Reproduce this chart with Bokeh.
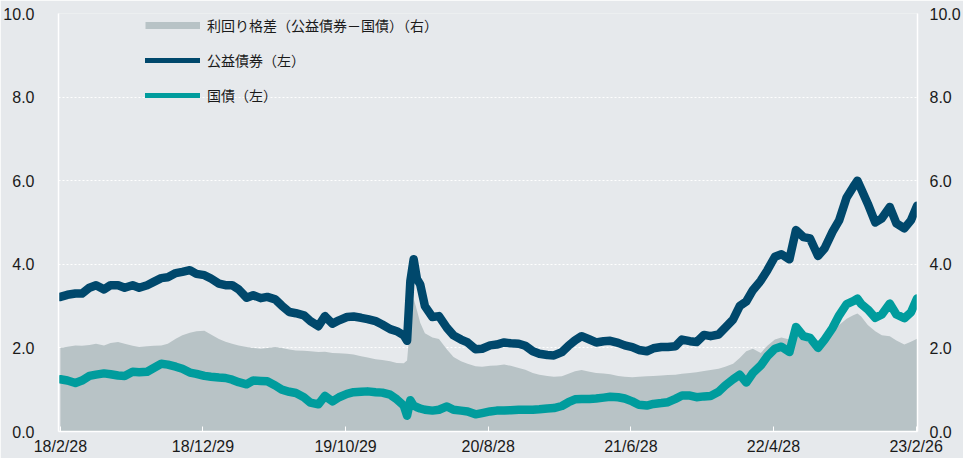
import pandas as pd
from bokeh.plotting import figure
from bokeh.models import (Range1d, LinearAxis, FixedTicker, Legend, LegendItem,
                          PrintfTickFormatter, ColumnDataSource)
from bokeh.embed import file_html
from bokeh.resources import INLINE

# ---------------- data ----------------
dates = [
    "2018-02-28", "2018-03-15", "2018-04-01", "2018-04-15", "2018-05-01", "2018-05-15",
    "2018-06-01", "2018-06-15", "2018-07-01", "2018-07-15", "2018-08-01", "2018-08-15",
    "2018-09-01", "2018-09-15", "2018-10-01", "2018-10-15", "2018-11-01", "2018-11-15",
    "2018-12-01", "2018-12-15", "2019-01-01", "2019-01-15", "2019-02-01", "2019-02-15",
    "2019-03-01", "2019-03-15", "2019-04-01", "2019-04-15", "2019-05-01", "2019-05-15",
    "2019-06-01", "2019-06-15", "2019-07-01", "2019-07-15", "2019-08-01", "2019-08-15",
    "2019-09-01", "2019-09-15", "2019-10-01", "2019-10-15", "2019-11-01", "2019-11-15",
    "2019-12-01", "2019-12-15", "2020-01-01", "2020-01-15", "2020-02-01", "2020-02-15",
    "2020-03-01", "2020-03-08", "2020-03-15", "2020-03-22", "2020-03-29", "2020-04-05",
    "2020-04-15", "2020-05-01", "2020-05-15", "2020-06-01", "2020-06-15", "2020-07-01",
    "2020-07-15", "2020-08-01", "2020-08-15", "2020-09-01", "2020-09-15", "2020-10-01",
    "2020-10-15", "2020-11-01", "2020-11-15", "2020-12-01", "2020-12-15", "2021-01-01",
    "2021-01-15", "2021-02-01", "2021-02-15", "2021-03-01", "2021-03-15", "2021-04-01",
    "2021-04-15", "2021-05-01", "2021-05-15", "2021-06-01", "2021-06-15", "2021-07-01",
    "2021-07-15", "2021-08-01", "2021-08-15", "2021-09-01", "2021-09-15", "2021-10-01",
    "2021-10-15", "2021-11-01", "2021-11-15", "2021-12-01", "2021-12-15", "2022-01-01",
    "2022-01-15", "2022-02-01", "2022-02-15", "2022-03-01", "2022-03-15", "2022-04-01",
    "2022-04-15", "2022-05-01", "2022-05-15", "2022-06-01", "2022-06-15", "2022-07-01",
    "2022-07-15", "2022-08-01", "2022-08-15", "2022-09-01", "2022-09-15", "2022-10-01",
    "2022-10-15", "2022-10-24", "2022-11-01", "2022-11-15", "2022-12-01", "2022-12-15",
    "2023-01-01", "2023-01-15", "2023-02-01", "2023-02-15", "2023-02-28",
]

# 公益債券（左）
corp = [
    3.22, 3.27, 3.30, 3.30, 3.44, 3.50, 3.40, 3.50, 3.50, 3.44, 3.50, 3.44,
    3.50, 3.58, 3.67, 3.69, 3.79, 3.82, 3.86, 3.77, 3.74, 3.66, 3.54, 3.50,
    3.50, 3.40, 3.20, 3.26, 3.19, 3.22, 3.16, 3.01, 2.86, 2.83, 2.78, 2.64,
    2.52, 2.76, 2.58, 2.66, 2.74, 2.75, 2.72, 2.69, 2.64, 2.56, 2.45, 2.40,
    2.30, 2.17, 3.60, 4.12, 3.65, 3.52, 3.00, 2.74, 2.76, 2.48, 2.30, 2.20,
    2.13, 1.97, 1.98, 2.06, 2.08, 2.13, 2.11, 2.10, 2.05, 1.92, 1.86, 1.83,
    1.82, 1.90, 2.05, 2.18, 2.28, 2.20, 2.13, 2.16, 2.17, 2.12, 2.06, 2.02,
    1.95, 1.92, 1.99, 2.02, 2.02, 2.04, 2.20, 2.16, 2.14, 2.31, 2.28, 2.32,
    2.48, 2.68, 3.00, 3.11, 3.38, 3.61, 3.86, 4.18, 4.24, 4.12, 4.82, 4.65,
    4.62, 4.20, 4.38, 4.78, 5.05, 5.60, 5.85, 6.00, 5.80, 5.45, 5.00, 5.10,
    5.37, 4.98, 4.86, 5.05, 5.40,
]

# 国債（左）
govt = [
    1.25, 1.22, 1.16, 1.22, 1.33, 1.36, 1.39, 1.37, 1.34, 1.33, 1.43, 1.42,
    1.43, 1.52, 1.62, 1.60, 1.55, 1.50, 1.41, 1.38, 1.33, 1.31, 1.29, 1.28,
    1.24, 1.18, 1.13, 1.22, 1.21, 1.20, 1.10, 1.00, 0.95, 0.92, 0.82, 0.69,
    0.65, 0.85, 0.72, 0.82, 0.90, 0.94, 0.95, 0.96, 0.94, 0.93, 0.88, 0.77,
    0.62, 0.38, 0.75, 0.62, 0.58, 0.55, 0.52, 0.50, 0.52, 0.60, 0.52, 0.50,
    0.48, 0.41, 0.44, 0.48, 0.50, 0.50, 0.51, 0.52, 0.52, 0.52, 0.53, 0.55,
    0.56, 0.61, 0.70, 0.77, 0.78, 0.78, 0.79, 0.81, 0.83, 0.82, 0.79, 0.72,
    0.64, 0.62, 0.66, 0.68, 0.70, 0.78, 0.86, 0.86, 0.82, 0.84, 0.85, 0.95,
    1.10, 1.25, 1.36, 1.17, 1.40, 1.58, 1.80, 1.98, 2.03, 1.90, 2.50, 2.28,
    2.24, 2.00, 2.20, 2.48, 2.78, 3.05, 3.12, 3.18, 3.05, 2.92, 2.72, 2.80,
    3.06, 2.80, 2.71, 2.85, 3.18,
]

# 利回り格差（公益債券－国債）（右）
spread = [
    2.00, 2.03, 2.06, 2.05, 2.07, 2.10, 2.06, 2.12, 2.14, 2.10, 2.05, 2.02,
    2.04, 2.05, 2.06, 2.10, 2.22, 2.30, 2.36, 2.40, 2.41, 2.32, 2.21, 2.15,
    2.10, 2.06, 2.02, 2.00, 1.98, 2.00, 2.02, 2.00, 1.96, 1.94, 1.93, 1.92,
    1.90, 1.91, 1.88, 1.87, 1.86, 1.84, 1.80, 1.77, 1.73, 1.71, 1.68, 1.64,
    1.63, 1.70, 2.60, 3.18, 2.90, 2.60, 2.35, 2.25, 2.21, 1.96, 1.78, 1.68,
    1.62, 1.56, 1.55, 1.57, 1.58, 1.60, 1.57, 1.52, 1.48, 1.40, 1.36, 1.33,
    1.31, 1.32, 1.38, 1.44, 1.47, 1.43, 1.40, 1.39, 1.37, 1.33, 1.31, 1.30,
    1.31, 1.32, 1.33, 1.34, 1.35, 1.36, 1.38, 1.40, 1.42, 1.45, 1.47, 1.50,
    1.55, 1.62, 1.76, 1.92, 1.98, 1.88, 2.05, 2.20, 2.25, 2.20, 2.35, 2.22,
    2.10, 2.18, 2.22, 2.40, 2.55, 2.70, 2.78, 2.82, 2.75, 2.55, 2.40, 2.30,
    2.28, 2.18, 2.08, 2.15, 2.22,
]

tick_dates = ["2018-02-28", "2018-12-29", "2019-10-29", "2020-08-28",
              "2021-06-28", "2022-04-28", "2023-02-26"]
tick_labels = ["18/2/28", "18/12/29", "19/10/29", "20/8/28",
               "21/6/28", "22/4/28", "23/2/26"]
y_ticks = [0, 2, 4, 6, 8, 10]

legend_labels = ["利回り格差（公益債券－国債）（右）", "公益債券（左）", "国債（左）"]

# ---------------- styling ----------------
BG = "#e6e9ec"
NAVY = "#00486c"
TEAL = "#009c9d"
GREY = "#b8c3c6"
TXT = "#1a1a1a"
FONT = "Liberation Sans"
CJK = "Noto Sans CJK JP"

W, H = 963, 458
FL, FR, FT, FB = 58, 926, 13, 431      # frame edges in canvas pixels

src = ColumnDataSource(dict(x=pd.to_datetime(dates), corp=corp, govt=govt, spread=spread))

p = figure(width=W, height=H, x_axis_type="datetime",
           output_backend="svg", toolbar_location=None,
           x_range=Range1d(pd.Timestamp("2018-02-24"), pd.Timestamp("2023-03-01")),
           y_range=Range1d(0, 10),
           min_border_left=FL, min_border_right=W - FR,
           min_border_top=FT, min_border_bottom=H - FB)
p.extra_y_ranges = {"right": Range1d(0, 10)}
p.background_fill_color = BG
p.border_fill_color = BG
p.outline_line_color = None

# spread area (right axis)
p.varea(x="x", y1=0, y2="spread", source=src, fill_color=GREY, y_range_name="right")

# legend proxies (hidden underneath the real lines)
lg_a = p.line(x="x", y="govt", source=src, line_color=GREY, line_width=7, line_cap="butt")
lg_b = p.line(x="x", y="corp", source=src, line_color=NAVY, line_width=5, line_cap="round")
lg_c = p.line(x="x", y="govt", source=src, line_color=TEAL, line_width=5, line_cap="round")

# series lines
p.line(x="x", y="corp", source=src, line_color=NAVY, line_width=8.5,
       line_join="round", line_cap="round")
p.line(x="x", y="govt", source=src, line_color=TEAL, line_width=8.5,
       line_join="round", line_cap="round")

legend = Legend(items=[LegendItem(label=legend_labels[0], renderers=[lg_a]),
                       LegendItem(label=legend_labels[1], renderers=[lg_b]),
                       LegendItem(label=legend_labels[2], renderers=[lg_c])],
                location=(87, (FB - FT) - 2 - 90), padding=0, margin=0, spacing=15,
                glyph_width=55, glyph_height=20, label_height=20, label_standoff=7,
                label_text_font=CJK, label_text_font_size="14px",
                label_text_color=TXT, border_line_color=None,
                background_fill_alpha=0)
p.add_layout(legend)

# grid
p.xgrid.visible = False
p.ygrid.ticker = FixedTicker(ticks=y_ticks)
p.ygrid.grid_line_color = "white"
p.ygrid.grid_line_dash = "2 2"
p.ygrid.grid_line_width = 1

# x axis
tick_ms = [int(pd.Timestamp(d).timestamp() * 1000) for d in tick_dates]
xa = p.xaxis[0]
xa.ticker = FixedTicker(ticks=tick_ms)
xa.major_label_overrides = {ms: lab for ms, lab in zip(tick_ms, tick_labels)}
xa.axis_line_color = "white"
xa.axis_line_width = 1.5
xa.major_tick_line_color = "white"
xa.major_tick_in = 5
xa.major_tick_out = 0
xa.minor_tick_line_color = None
xa.major_label_standoff = 6
xa.major_label_text_font = FONT
xa.major_label_text_font_size = "16px"
xa.major_label_text_color = TXT

# y axes
ya = p.yaxis[0]
ya.ticker = FixedTicker(ticks=y_ticks)
ya.formatter = PrintfTickFormatter(format="%.1f")
yr = LinearAxis(y_range_name="right", ticker=FixedTicker(ticks=y_ticks),
                formatter=PrintfTickFormatter(format="%.1f"))
p.add_layout(yr, "right")
for ax, so in ((ya, 18), (yr, 6)):
    ax.axis_line_color = "white"
    ax.axis_line_width = 1.5
    ax.major_tick_line_color = None
    ax.minor_tick_line_color = None
    ax.major_label_standoff = so
    ax.major_label_text_font = FONT
    ax.major_label_text_font_size = "16px"
    ax.major_label_text_color = TXT

open("out.html", "w").write(file_html(p, INLINE))
